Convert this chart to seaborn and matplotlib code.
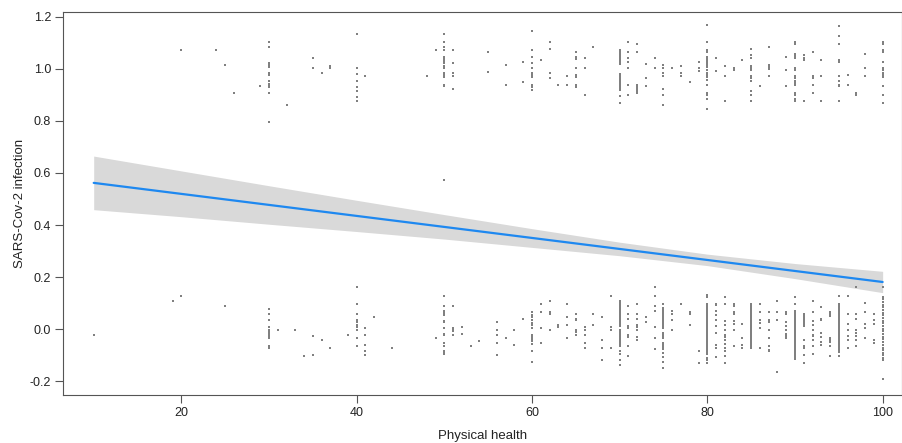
import pandas as pd
import matplotlib
matplotlib.use("Agg")
import matplotlib.pyplot as plt
import seaborn as sns

# точки у y ~ 1 (инфекция есть): столбцы по x и значения y с джиттером
top_x = [20, 24, 25, 26, 29, 30, 32, 35, 36, 37, 40, 41, 48, 49, 50, 51, 55, 57, 59, 60,
         61, 62, 63, 64, 65, 66, 67, 70, 71, 72, 73, 74, 75, 76, 77, 78, 79, 80, 81, 82,
         83, 84, 85, 86, 87, 89, 90, 91, 92, 93, 95, 96, 97, 98, 100]
top_y = [
    [1.072], [1.072], [1.017], [0.909], [0.935],
    [1.104, 1.086, 1.022, 1.014, 1.007, 0.983, 0.977, 0.953, 0.941, 0.935, 0.930, 0.909, 0.797],
    [0.860], [1.041, 1.004], [0.983], [1.012, 1.004],
    [1.133, 1.004, 0.981, 0.953, 0.930, 0.917, 0.891, 0.878],
    [0.973], [0.973], [1.072],
    [1.133, 1.103, 1.086, 1.072, 1.047, 1.040, 1.030, 1.022, 1.012, 1.004, 0.983, 0.976, 0.968,
     0.940, 0.935, 0.573],
    [1.072, 1.022, 0.983, 0.973, 0.922],
    [1.064, 0.990], [1.017, 0.940], [1.026, 0.948],
    [1.146, 1.072, 1.047, 1.022, 1.004, 0.983, 0.976, 0.968, 0.940, 0.935, 0.930, 0.920],
    [1.034], [1.103, 1.077, 0.983, 0.965], [0.940], [0.973, 0.940],
    [1.064, 1.047, 1.040, 1.004, 0.978, 0.970, 0.940, 0.932],
    [1.041, 1.004, 0.901], [1.086],
    [1.072, 1.064, 1.057, 1.049, 1.041, 1.034, 1.026, 1.018, 0.982, 0.974, 0.967, 0.959, 0.951,
     0.943, 0.936, 0.928, 0.920, 0.897, 0.870],
    [1.103, 1.064, 1.041, 1.026, 1.004, 0.940, 0.901],
    [1.095, 1.064, 0.940, 0.932, 0.924, 0.917, 0.909],
    [1.020, 0.965, 0.935], [1.041, 1.004],
    [1.017, 1.004, 0.983, 0.973, 0.922, 0.901, 0.860],
    [1.004], [1.012, 0.983, 0.973], [0.948], [1.026, 1.004, 0.991],
    [1.167, 1.103, 1.072, 1.064, 1.047, 1.040, 1.030, 1.022, 1.014, 1.007, 0.996, 0.983, 0.976,
     0.968, 0.958, 0.940, 0.909, 0.901, 0.886, 0.847],
    [1.041, 0.991], [1.012, 0.973, 0.878], [1.004, 0.996], [1.034],
    [1.077, 1.055, 1.041, 1.012, 1.004, 0.996, 0.973, 0.965, 0.953, 0.917, 0.901, 0.878],
    [0.935], [1.086, 1.017, 1.009, 1.001, 0.973], [1.047, 0.996, 0.935],
    [1.103, 1.095, 1.057, 1.049, 1.041, 1.004, 0.996, 0.973, 0.965, 0.953, 0.945, 0.940, 0.909,
     0.901, 0.886, 0.878],
    [1.055, 1.041, 1.034, 0.878], [1.064, 0.973, 0.965, 0.940, 0.909], [1.034, 0.973, 0.878],
    [1.164, 1.128, 1.095, 1.034, 1.026, 0.973, 0.953, 0.940, 0.935, 0.878],
    [0.978, 0.940], [0.909, 0.901], [1.057, 1.004, 0.973],
    [1.103, 1.095, 1.072, 1.064, 1.026, 1.004, 0.996, 0.983, 0.976, 0.968, 0.935, 0.901, 0.870],
]

# точки у y ~ 0 (инфекции нет)
bot_x = [10, 19, 20, 25, 30, 31, 33, 34, 35, 36, 37, 39, 40, 41, 42, 44, 49, 50, 51, 52,
         53, 54, 56, 57, 58, 59, 60, 61, 62, 63, 64, 65, 66, 67, 68, 69, 70, 71, 72, 73,
         74, 75, 76, 77, 78, 79, 80, 81, 82, 83, 84, 85, 86, 87, 88, 89, 90, 91, 92, 93,
         94, 95, 96, 97, 98, 99, 100]
bot_y = [
    [-0.024], [0.109], [0.127], [0.088],
    [0.078, 0.058, 0.035, 0.009, -0.004, -0.012, -0.019, -0.027, -0.035, -0.065, -0.073],
    [-0.004], [-0.004], [-0.104], [-0.027, -0.099], [-0.042], [-0.073], [-0.024],
    [0.160, 0.096, 0.058, 0.035, 0.027, 0.017, 0.009, -0.004, -0.035, -0.065],
    [0.004, -0.024, -0.060, -0.083, -0.099],
    [0.047], [-0.073], [-0.035],
    [0.127, 0.088, 0.071, 0.063, 0.055, 0.032, 0.027, 0.004, -0.017, -0.024, -0.055, -0.065,
     -0.086, -0.091, -0.096],
    [0.088, 0.004, -0.001, -0.006, -0.024],
    [0.009, -0.017], [-0.065], [-0.047],
    [0.027, -0.004, -0.024, -0.055, -0.099],
    [-0.035], [-0.004, -0.060], [0.040],
    [0.065, 0.055, 0.045, 0.035, 0.024, 0.014, 0.004, -0.022, -0.030, -0.037, -0.047, -0.058,
     -0.086, -0.127],
    [0.096, 0.065, 0.004, -0.055],
    [0.109, 0.065, 0.058, -0.004],
    [0.017, 0.009],
    [0.096, 0.047, 0.017, -0.035],
    [0.058, 0.040, 0.035, -0.004, -0.012, -0.024],
    [0.009, -0.004, -0.024, -0.055, -0.073],
    [0.058, 0.017],
    [0.047, -0.042, -0.073, -0.117],
    [0.127, 0.009, -0.004, -0.073],
    [0.109, 0.104, 0.099, 0.094, 0.088, 0.083, 0.078, 0.073, 0.068, 0.063, 0.058, 0.053, 0.047,
     0.042, 0.037, 0.032, 0.027, 0.022, 0.017, 0.012, -0.004, -0.009, -0.014, -0.019, -0.024,
     -0.029, -0.035, -0.040, -0.045, -0.050, -0.055, -0.060, -0.065, -0.086, -0.096, -0.117,
     -0.137],
    [0.088, 0.058, 0.037, 0.012, 0.004, -0.024, -0.032, -0.065, -0.104],
    [0.096, 0.058, 0.037, 0.017, 0.009, -0.004, -0.032, -0.042],
    [0.047, 0.027],
    [0.160, 0.127, 0.088, 0.071, 0.009, -0.035, -0.078],
    [0.096, 0.081, 0.076, 0.071, 0.066, 0.060, 0.055, 0.050, 0.045, 0.040, 0.035, 0.030, 0.024,
     0.019, 0.014, 0.009, 0.004, -0.014, -0.019, -0.024, -0.029, -0.035, -0.053, -0.058, -0.065,
     -0.071, -0.078, -0.091, -0.109, -0.127, -0.148],
    [0.071, 0.058, 0.035, -0.004],
    [0.096],
    [0.066, 0.058, 0.017],
    [-0.086, -0.130],
    [0.132, 0.124, 0.096, 0.088, 0.081, 0.073, 0.066, 0.058, 0.050, 0.042, 0.035, 0.027, 0.019,
     0.012, 0.004, -0.004, -0.012, -0.019, -0.027, -0.035, -0.042, -0.050, -0.058, -0.065,
     -0.073, -0.081, -0.088, -0.096, -0.112, -0.119, -0.130],
    [0.096, 0.091, 0.071, 0.055, 0.035, 0.012, -0.014, -0.063, -0.073, -0.109],
    [0.124, 0.096, 0.030, 0.017, -0.004, -0.022, -0.029, -0.042, -0.058, -0.071, -0.086, -0.104,
     -0.130],
    [0.096, 0.088, 0.066, 0.058, 0.030, 0.019, -0.004, -0.065],
    [0.019, -0.035, -0.063, -0.073],
    [0.096, 0.088, 0.081, 0.073, 0.066, 0.058, 0.050, 0.042, 0.035, 0.027, 0.019, 0.012, 0.004,
     -0.004, -0.012, -0.019, -0.027, -0.035, -0.042, -0.050, -0.058, -0.065, -0.073],
    [0.096, 0.066, 0.035, 0.024, 0.004, -0.073],
    [0.066, 0.035, 0.027, -0.004, -0.035, -0.065, -0.081, -0.086],
    [0.109, 0.066, 0.035, -0.165],
    [0.066, 0.058, 0.027, 0.012, -0.004, -0.019, -0.027, -0.035],
    [0.124, 0.096, 0.071, 0.063, 0.055, 0.047, 0.040, 0.032, 0.024, 0.017, 0.009, 0.001, -0.006,
     -0.014, -0.022, -0.029, -0.037, -0.045, -0.053, -0.060, -0.068, -0.076, -0.083, -0.091,
     -0.099, -0.106, -0.114],
    [0.058, 0.050, 0.042, 0.035, 0.027, 0.019, 0.012, -0.042, -0.065, -0.071, -0.101, -0.130],
    [0.109, 0.066, 0.030, 0.017, -0.004, -0.022, -0.027, -0.042, -0.065, -0.096],
    [0.083, 0.040, 0.035, -0.014, -0.032, -0.050, -0.060],
    [0.066, 0.058, 0.050, -0.035, -0.042, -0.050, -0.065, -0.104],
    [0.127, 0.096, 0.088, 0.081, 0.073, 0.066, 0.058, 0.050, 0.042, 0.035, 0.027, 0.019, 0.012,
     0.004, -0.004, -0.012, -0.019, -0.027, -0.035, -0.042, -0.050, -0.058, -0.065, -0.073,
     -0.081, -0.088, -0.104],
    [0.127, 0.058, 0.019, -0.004, -0.027, -0.042, -0.073],
    [0.160, 0.058, 0.040, -0.004, -0.014, -0.027, -0.042, -0.065],
    [0.101, 0.066, 0.019, 0.004, -0.035],
    [0.058, 0.035, 0.019, -0.042, -0.055],
    [0.160, 0.124, 0.114, 0.104, 0.094, 0.083, 0.073, 0.063, 0.053, 0.042, 0.032, 0.022, 0.012,
     0.001, -0.009, -0.019, -0.029, -0.040, -0.050, -0.060, -0.071, -0.081, -0.091, -0.101,
     -0.112, -0.119, -0.191],
]

# линия регрессии и доверительная полоса
fit_x = [10, 100]
fit_y = [0.562, 0.181]
band_x = [10, 20, 30, 40, 50, 60, 70, 80, 90, 100]
band_hi = [0.665, 0.608, 0.551, 0.495, 0.440, 0.386, 0.334, 0.288, 0.252, 0.222]
band_lo = [0.459, 0.432, 0.403, 0.375, 0.346, 0.314, 0.282, 0.244, 0.194, 0.140]

rows = []
for xs, ys in ((top_x, top_y), (bot_x, bot_y)):
    for x, col in zip(xs, ys):
        for y in col:
            rows.append((x, y))
df = pd.DataFrame(rows, columns=["health", "infection"])

sns.set_style("white")
plt.rcParams["font.family"] = ["Liberation Sans", "DejaVu Sans"]

fig = plt.figure(figsize=(9.03, 4.43), dpi=100)
ax = fig.add_axes([0.0698, 0.108, 0.929, 0.865])

ax.fill_between(band_x, band_lo, band_hi, color="#d9d9d9", linewidth=0, zorder=1)
sns.scatterplot(data=df, x="health", y="infection", ax=ax, color="#808080",
                marker="s", s=1.3, linewidth=0, zorder=2)
sns.lineplot(x=fit_x, y=fit_y, ax=ax, color="#1e88f0", linewidth=1.6, zorder=3)

ax.set_xlim(6.5, 102.2)
ax.set_ylim(-0.254, 1.219)
ax.set_xticks([20, 40, 60, 80, 100])
ax.set_yticks([-0.2, 0.0, 0.2, 0.4, 0.6, 0.8, 1.0, 1.2])
ax.set_yticklabels([f"{v:.1f}" for v in [-0.2, 0.0, 0.2, 0.4, 0.6, 0.8, 1.0, 1.2]])
ax.tick_params(axis="both", direction="out", length=5.5, width=0.8, color="#555555",
               labelsize=9, labelcolor="#222222", pad=3, left=True, bottom=True)
for sp in ax.spines.values():
    sp.set_visible(True)
    sp.set_color("#555555")
    sp.set_linewidth(0.8)

ax.set_xlabel("Physical health", fontsize=9.5, color="#222222", labelpad=8)
ax.set_ylabel("SARS-Cov-2 infection", fontsize=9.5, color="#222222", labelpad=3)

fig.savefig("out.png", dpi=100)
